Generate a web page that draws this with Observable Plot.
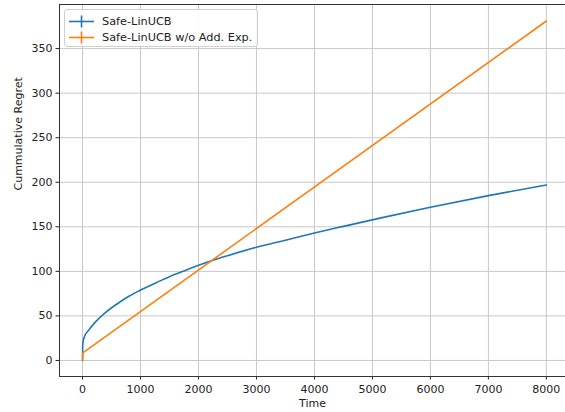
<!DOCTYPE html>
<html><head><meta charset="utf-8">
<script src="https://cdn.jsdelivr.net/npm/d3@7"></script>
<script src="https://cdn.jsdelivr.net/npm/@observablehq/plot@0.6"></script>
<style>
body{margin:0;background:#fff;}
#chart{position:relative;width:565px;height:412px;font-family:"DejaVu Sans",sans-serif;overflow:hidden;}
#legend{position:absolute;left:64px;top:9px;width:192px;height:36px;border:1px solid #d0d0d0;border-radius:3px;background:rgba(255,255,255,0.85);font-size:11.3px;color:#222;}
.item{position:absolute;left:4px;height:14px;display:flex;align-items:center;}
.item svg{margin-right:8px;}
</style></head><body><div id="chart"></div>
<script>
const seriesNames = ["Safe-LinUCB", "Safe-LinUCB w/o Add. Exp."];
const seriesColors = ["#1f77b4", "#ff7f0e"];
const timeA = [0, 3, 10, 35, 100, 220, 400, 620, 800, 970, 1310, 1500, 1750, 2210, 2500, 3000, 3500, 4000, 4500, 5150, 6000, 7000, 8000];
const regretA = [0, 16, 21, 27, 33.5, 43, 54, 64.5, 72, 78, 88.5, 94, 100.5, 111.5, 117.5, 127, 135, 143, 150.5, 160, 172, 185, 197];
const timeB = [0, 5, 8000];
const regretB = [0, 8.5, 381];
const xTicks = [0, 1000, 2000, 3000, 4000, 5000, 6000, 7000, 8000];
const yTicks = [0, 50, 100, 150, 200, 250, 300, 350];
const xLabel = "Time";
const yLabel = "Cummulative Regret";

const xDomain = [-397, 8330];
const yDomain = [-18, 399.5];

const dataA = timeA.map((t, i) => ({t, v: regretA[i], s: seriesNames[0]}));
const dataB = timeB.map((t, i) => ({t, v: regretB[i], s: seriesNames[1]}));

const plot = Plot.plot({
  width: 565, height: 412,
  marginLeft: 59, marginRight: 0, marginTop: 4, marginBottom: 36,
  style: {fontFamily: "DejaVu Sans, sans-serif", fontSize: "11px", color: "#222", background: "#fff"},
  x: {domain: xDomain},
  y: {domain: yDomain},
  color: {domain: seriesNames, range: seriesColors},
  marks: [
    Plot.gridX(xTicks, {stroke: "#c8c8c8", strokeOpacity: 1, strokeWidth: 1}),
    Plot.gridY(yTicks, {stroke: "#c8c8c8", strokeOpacity: 1, strokeWidth: 1}),
    Plot.axisX(xTicks, {tickSize: 3.5, tickPadding: 5, label: null, tickFormat: d => String(d), fontSize: "11px"}),
    Plot.axisY(yTicks, {tickSize: 3.5, tickPadding: 3.5, label: null, tickFormat: d => String(d), fontSize: "11px"}),
    Plot.ruleX([xDomain[0]], {stroke: "#333", strokeWidth: 1}),
    Plot.ruleY([yDomain[0]], {stroke: "#333", strokeWidth: 1}),
    Plot.ruleY([yDomain[1]], {stroke: "#333", strokeWidth: 1}),
    Plot.line(dataA, {x: "t", y: "v", stroke: "s", strokeWidth: 1.6, curve: "monotone-x"}),
    Plot.line(dataB, {x: "t", y: "v", stroke: "s", strokeWidth: 1.6}),
    Plot.text([xLabel], {frameAnchor: "bottom", dy: 30, text: d => d, fontSize: 11}),
    Plot.text([yLabel], {frameAnchor: "left", dx: -41, rotate: -90, text: d => d, fontSize: 11})
  ]
});
const chart = document.getElementById("chart");
chart.appendChild(plot);

const legend = document.createElement("div");
legend.id = "legend";
seriesNames.forEach((name, i) => {
  const it = document.createElement("div");
  it.className = "item";
  it.style.top = (4 + i * 16.5) + "px";
  it.innerHTML = `<svg width="25" height="13"><line x1="0" y1="6.5" x2="25" y2="6.5" stroke="${seriesColors[i]}" stroke-width="1.6"/><line x1="12.5" y1="0.5" x2="12.5" y2="12.5" stroke="${seriesColors[i]}" stroke-width="1.6"/></svg><span>${name}</span>`;
  legend.appendChild(it);
});
chart.appendChild(legend);
</script></body></html>
